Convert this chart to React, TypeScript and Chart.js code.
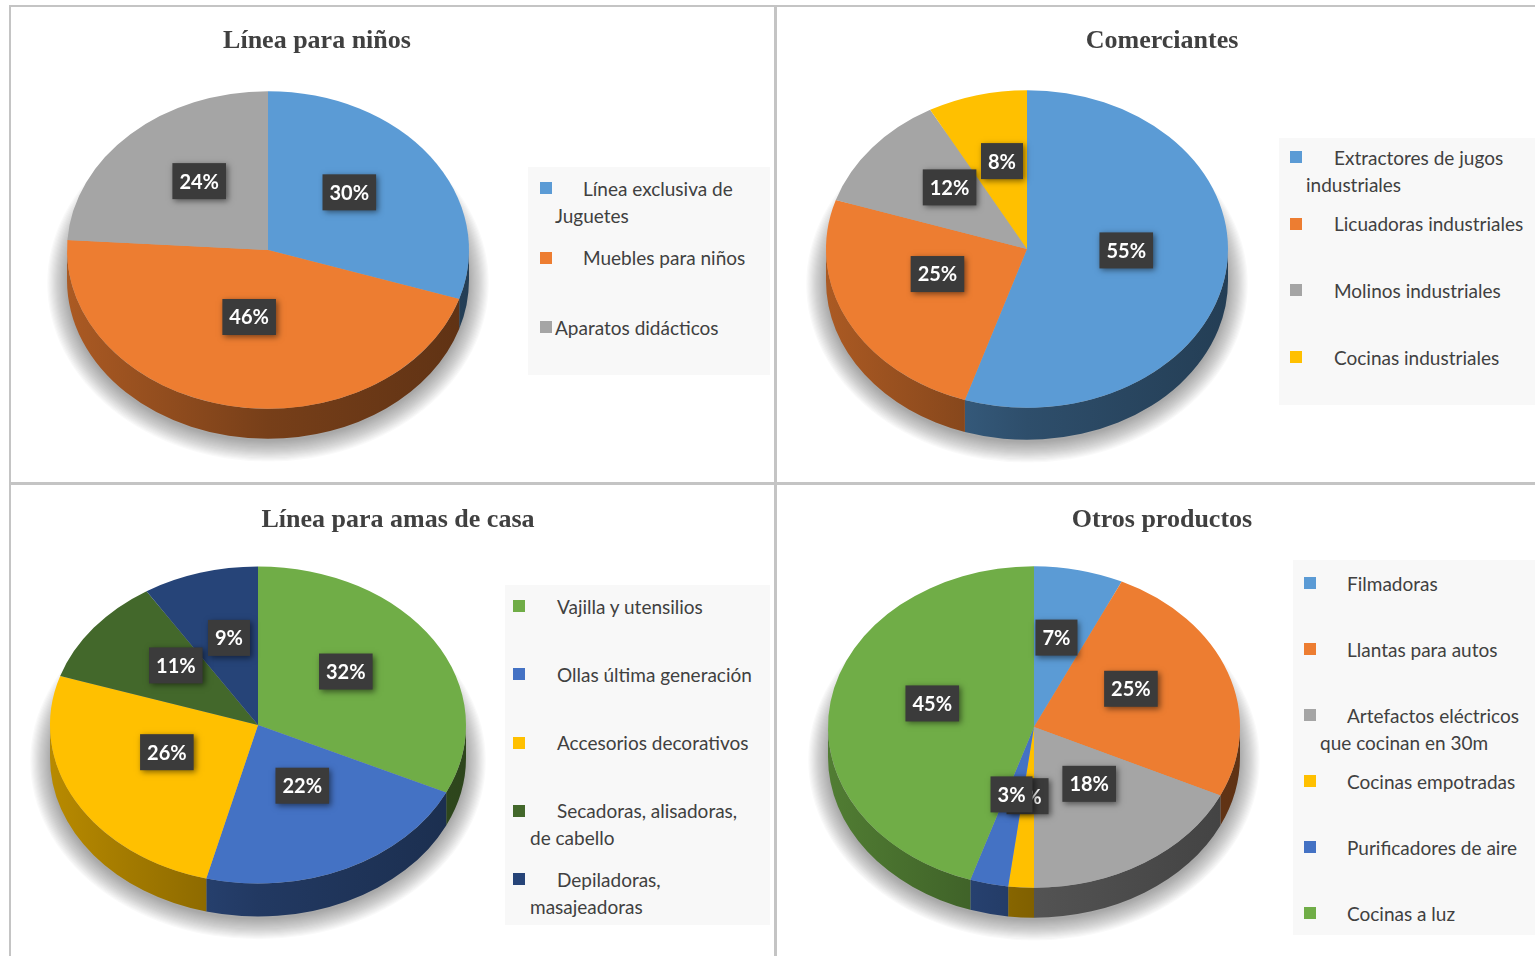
import React, { useEffect, useRef } from 'react';
import { Chart, registerables } from 'chart.js';

Chart.register(...registerables);

// ---------- DATA ----------
const ninosTitle = 'Línea para niños';
const ninosLabels = ['Línea exclusiva de Juguetes', 'Muebles para niños', 'Aparatos didácticos'];
const ninosValues = [30, 46, 24];
const ninosColors = ['#5B9BD5', '#ED7D31', '#A5A5A5'];

const comerTitle = 'Comerciantes';
const comerLabels = ['Extractores de jugos industriales', 'Licuadoras industriales', 'Molinos industriales', 'Cocinas industriales'];
const comerValues = [55, 25, 12, 8];
const comerColors = ['#5B9BD5', '#ED7D31', '#A5A5A5', '#FFC000'];

const amasTitle = 'Línea para amas de casa';
const amasLabels = ['Vajilla y utensilios', 'Ollas última generación', 'Accesorios decorativos', 'Secadoras, alisadoras, de cabello', 'Depiladoras, masajeadoras'];
const amasValues = [32, 22, 26, 11, 9];
const amasColors = ['#70AD47', '#4472C4', '#FFC000', '#43682B', '#264478'];

const otrosTitle = 'Otros productos';
const otrosLabels = ['Filmadoras', 'Llantas para autos', 'Artefactos eléctricos que cocinan en 30m', 'Cocinas empotradas', 'Purificadores de aire', 'Cocinas a luz'];
const otrosValues = [7, 25, 18, 2, 3, 45];
const otrosColors = ['#5B9BD5', '#ED7D31', '#A5A5A5', '#FFC000', '#4472C4', '#70AD47'];

// ---------- LAYOUT ----------
type Layout = {
  titleX: number; titleY: number;
  cx: number; cy: number; R: number; k: number; depth: number;
  box: { x: number; y: number; w: number; h: number };
  sqX: number; textX: number; wrapX: number; right: number; firstY: number; step: number;
  noIndent?: number[];
};

const layouts: Layout[] = [
  { titleX: 317, titleY: 40, cx: 268, cy: 250, R: 201, k: 0.79, depth: 30,
    box: { x: 528, y: 167, w: 242, h: 208 }, sqX: 540, textX: 583, wrapX: 555, right: 766, firstY: 188, step: 69.5, noIndent: [2] },
  { titleX: 1162, titleY: 40, cx: 1027, cy: 249, R: 201, k: 0.79, depth: 32,
    box: { x: 1279, y: 138, w: 256, h: 267 }, sqX: 1290, textX: 1334, wrapX: 1306, right: 1533, firstY: 157, step: 66.7 },
  { titleX: 398, titleY: 519, cx: 258, cy: 725, R: 208, k: 0.762, depth: 33,
    box: { x: 505, y: 585, w: 265, h: 340 }, sqX: 513, textX: 557, wrapX: 530, right: 759, firstY: 606, step: 68.25 },
  { titleX: 1162, titleY: 519, cx: 1034, cy: 727, R: 206, k: 0.78, depth: 30,
    box: { x: 1293, y: 560, w: 242, h: 375 }, sqX: 1304, textX: 1347, wrapX: 1320, right: 1533, firstY: 583, step: 66 },
];

const panels = [
  { title: ninosTitle, labels: ninosLabels, values: ninosValues, colors: ninosColors },
  { title: comerTitle, labels: comerLabels, values: comerValues, colors: comerColors },
  { title: amasTitle, labels: amasLabels, values: amasValues, colors: amasColors },
  { title: otrosTitle, labels: otrosLabels, values: otrosValues, colors: otrosColors },
];

const PAD = 40;

function shade(hex: string, f: number): string {
  const h = hex.replace('#', '');
  const r = Math.round(parseInt(h.slice(0, 2), 16) * f);
  const g = Math.round(parseInt(h.slice(2, 4), 16) * f);
  const b = Math.round(parseInt(h.slice(4, 6), 16) * f);
  return `rgb(${r},${g},${b})`;
}

const pie3d = {
  id: 'pie3d',
  beforeDatasetsDraw(chart: any, _args: any, opts: any) {
    const arcs = chart.getDatasetMeta(0).data;
    if (!arcs || !arcs.length) return;
    const { x: cx, y: cy, outerRadius: R } = arcs[0];
    const k = opts.k, d = opts.depth, ry = R * k;
    const ctx = chart.ctx;
    ctx.save();
    // soft halo under the pie: stacked translucent ellipses
    ctx.save();
    ctx.fillStyle = 'rgba(0,0,0,0.022)';
    for (let s = 18; s >= 0; s--) {
      ctx.beginPath();
      ctx.ellipse(cx, cy + d + 3, R + s * 1.1, ry + s * 1.1, 0, 0, Math.PI * 2);
      ctx.fill();
    }
    ctx.restore();
    // sides
    const colors = chart.data.datasets[0].backgroundColor;
    arcs.forEach((arc: any, i: number) => {
      const a1 = Math.max(arc.startAngle, 0);
      const a2 = Math.min(arc.endAngle, Math.PI);
      if (a2 <= a1) return;
      const col = colors[i];
      const g = ctx.createLinearGradient(cx - R, 0, cx + R, 0);
      g.addColorStop(0, shade(col, 0.72));
      g.addColorStop(0.5, shade(col, 0.5));
      g.addColorStop(1, shade(col, 0.4));
      ctx.fillStyle = g;
      ctx.beginPath();
      ctx.ellipse(cx, cy, R, ry, 0, a1, a2, false);
      ctx.lineTo(cx + R * Math.cos(a2), cy + d + ry * Math.sin(a2));
      ctx.ellipse(cx, cy + d, R, ry, 0, a2, a1, true);
      ctx.closePath();
      ctx.fill();
    });
    // flatten the top face
    ctx.translate(cx, cy);
    ctx.scale(1, k);
    ctx.translate(-cx, -cy);
  },
  afterDatasetsDraw(chart: any, _args: any, opts: any) {
    const arcs = chart.getDatasetMeta(0).data;
    if (!arcs || !arcs.length) return;
    const ctx = chart.ctx;
    ctx.restore();
    const { x: cx, y: cy, outerRadius: R } = arcs[0];
    const k = opts.k;
    const values = chart.data.datasets[0].data;
    arcs.forEach((arc: any, i: number) => {
      const mid = (arc.startAngle + arc.endAngle) / 2;
      const r = R * 0.5;
      const x = cx + r * Math.cos(mid);
      const y = cy + r * k * Math.sin(mid) - 11;
      const txt = values[i] + '%';
      ctx.font = 'bold 20px Lato';
      const tw = ctx.measureText(txt).width;
      const w = tw + 14, h = 36;
      ctx.save();
      ctx.shadowColor = 'rgba(0,0,0,0.5)';
      ctx.shadowBlur = 6;
      ctx.shadowOffsetX = 2;
      ctx.shadowOffsetY = 2;
      ctx.fillStyle = '#3b3b3b';
      ctx.fillRect(x - w / 2, y - h / 2, w, h);
      ctx.restore();
      ctx.fillStyle = '#ffffff';
      ctx.textAlign = 'center';
      ctx.textBaseline = 'middle';
      ctx.fillText(txt, x, y + 1);
    });
  },
};

function PiePanel({ idx }: { idx: number }) {
  const ref = useRef<HTMLCanvasElement>(null);
  const L = layouts[idx];
  const P = panels[idx];
  const S = 2 * L.R + 2 * PAD;
  useEffect(() => {
    if (!ref.current) return;
    const chart = new Chart(ref.current, {
      type: 'pie',
      data: {
        labels: P.labels,
        datasets: [{ data: P.values, backgroundColor: P.colors, borderWidth: 0, clip: false } as any],
      },
      options: {
        responsive: false,
        animation: false,
        devicePixelRatio: 1,
        events: [],
        layout: { padding: PAD },
        plugins: {
          legend: { display: false },
          tooltip: { enabled: false },
          title: { display: false },
          pie3d: { k: L.k, depth: L.depth },
        } as any,
      },
      plugins: [pie3d as any],
    });
    return () => chart.destroy();
  }, []);
  return (
    <>
      <canvas ref={ref} width={S} height={S}
        style={{ position: 'absolute', left: L.cx - S / 2, top: L.cy - S / 2, width: S, height: S }} />
      <div style={{
        position: 'absolute', left: L.titleX - 300, width: 600, top: L.titleY - 16, lineHeight: '32px',
        textAlign: 'center', fontFamily: '"Liberation Serif", "Times New Roman", serif', fontWeight: 'bold',
        fontSize: 26, color: '#404040',
      }}>{P.title}</div>
      <div style={{ position: 'absolute', left: L.box.x, top: L.box.y, width: L.box.w, height: L.box.h, background: '#f8f8f8' }} />
      {P.labels.map((lab, i) => {
        const yc = L.firstY + i * L.step;
        const indent = L.noIndent && L.noIndent.includes(i) ? 0 : L.textX - L.wrapX;
        return (
          <React.Fragment key={i}>
            <div style={{ position: 'absolute', left: L.sqX, top: yc - 6, width: 12, height: 12, background: P.colors[i] }} />
            <div style={{
              position: 'absolute', left: L.wrapX, top: yc - 13.5, width: L.right - L.wrapX,
              textIndent: indent, fontFamily: 'Lato, "Open Sans", sans-serif', fontSize: 19, lineHeight: '27px',
              color: '#404040', whiteSpace: 'normal',
            }}>{lab}</div>
          </React.Fragment>
        );
      })}
    </>
  );
}

export default function App() {
  const line = '#c4c4c4';
  return (
    <div style={{ position: 'fixed', left: 0, top: 0, width: 1535, height: 956, background: '#ffffff', overflow: 'hidden' }}>
      <div style={{ position: 'absolute', left: 9, top: 5, width: 1526, height: 2, background: line }} />
      <div style={{ position: 'absolute', left: 9, top: 5, width: 2, height: 951, background: line }} />
      <div style={{ position: 'absolute', left: 774, top: 5, width: 3, height: 951, background: line }} />
      <div style={{ position: 'absolute', left: 9, top: 482, width: 1526, height: 3, background: line }} />
      {[0, 1, 2, 3].map((i) => <PiePanel key={i} idx={i} />)}
    </div>
  );
}
